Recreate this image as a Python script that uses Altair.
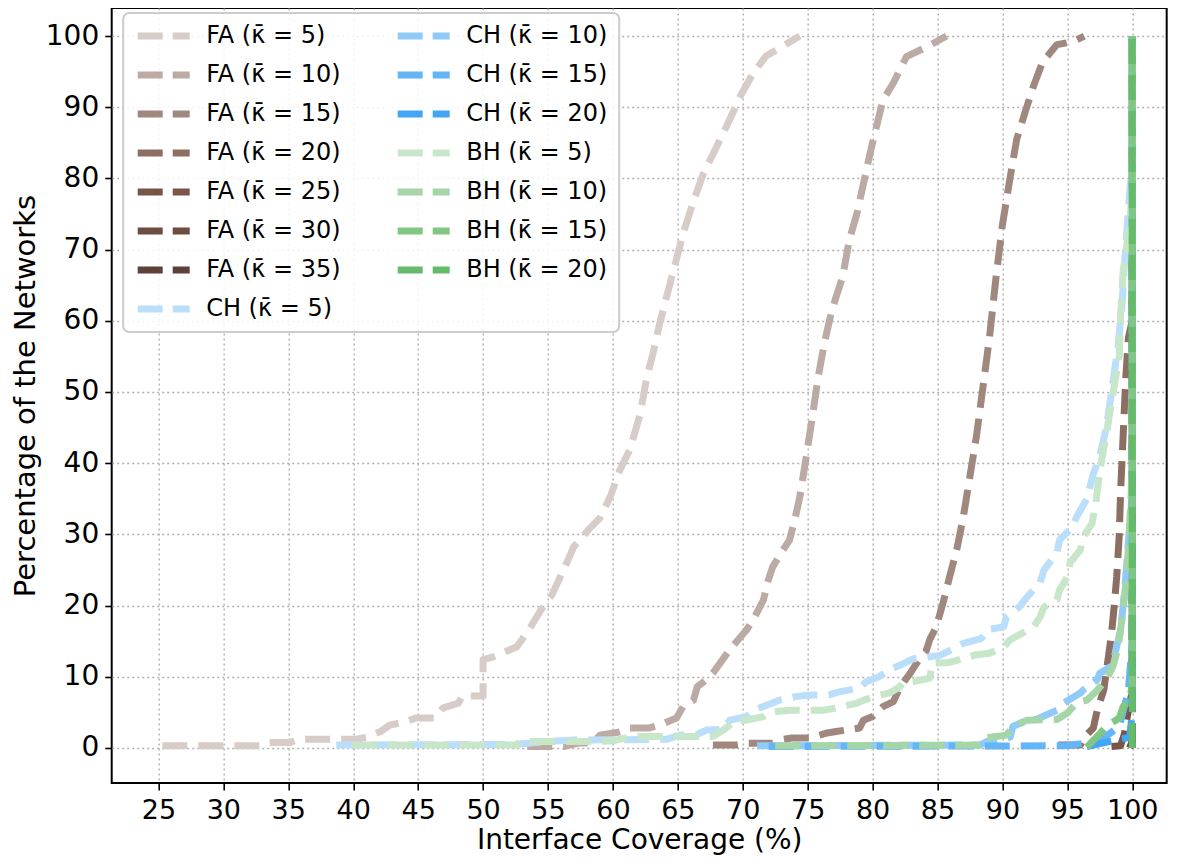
import altair as alt
import pandas as pd

# ---------------- data ----------------
FA5_x = [25.3, 32.8, 33.4, 35.1, 35.8, 37.6, 38.5, 40.1, 41.1, 42.1, 42.8, 44.1, 44.8, 46.3, 46.9, 48.1, 48.4, 50.0, 50.0,
         50.8, 52.6, 53.5, 54.5, 55.3, 56.2, 57.0, 58.2, 59.0, 59.8, 60.5, 61.3, 62.1, 62.6, 63.1, 63.6, 64.1, 64.9, 65.4,
         66.2, 67.0, 68.0, 68.8, 69.8, 70.8, 71.8, 73.1, 74.4]
FA5_y = [0.3, 0.3, 0.75, 0.75, 1.2, 1.2, 1.2, 1.2, 1.5, 2.3, 3.2, 3.7, 4.2, 4.2, 5.6, 6.3, 7.3, 7.3, 12.4,
         12.8, 14.2, 16.5, 19.5, 21.5, 25.0, 28.3, 30.8, 32.3, 35.3, 38.9, 41.9, 46.9, 52.0, 55.5, 59.6, 63.1, 68.7, 72.2,
         76.8, 80.8, 84.5, 87.5, 91.5, 94.8, 97.2, 98.6, 100.0]

FA10_x = [53.4, 56.2, 57.4, 58.5, 59.0, 60.4, 61.3, 62.8, 63.6, 64.9, 65.4, 66.2, 66.5, 67.2, 67.7, 68.8, 69.0, 70.3,
          70.8, 71.6, 71.9, 72.3, 73.1, 73.6, 74.0, 74.4, 74.9, 75.4, 75.8, 76.3, 76.8, 77.2, 77.7, 78.2, 78.8, 79.3,
          79.8, 80.3, 80.8, 81.6, 82.6, 84.2, 85.7]
FA10_y = [0.2, 0.2, 0.7, 0.7, 1.8, 2.2, 2.8, 2.8, 3.2, 4.2, 5.8, 6.7, 8.6, 9.6, 10.5, 13.3, 13.8, 16.6,
          18.0, 20.8, 23.2, 25.4, 27.8, 29.2, 32.0, 35.3, 41.0, 47.0, 52.0, 57.0, 61.0, 63.4, 66.2, 71.3, 75.1, 79.3,
          83.5, 87.3, 91.0, 93.4, 97.1, 98.5, 100.0]

FA15_x = [67.7, 69.5, 70.3, 72.3, 72.8, 73.8, 75.2, 76.5, 77.2, 79.0, 79.3, 80.0, 80.8, 81.6, 82.1, 82.9, 83.6, 84.1,
          84.4, 84.9, 85.4, 85.9, 86.5, 87.0, 87.5, 88.0, 88.5, 89.0, 89.5, 90.0, 90.6, 91.1, 91.8, 92.4, 93.1, 94.2,
          95.4, 96.3]
FA15_y = [0.4, 0.4, 0.65, 0.65, 1.1, 1.4, 1.4, 2.1, 2.3, 2.8, 3.9, 4.4, 5.8, 6.5, 8.5, 10.5, 12.5, 13.5,
          15.2, 17.0, 20.2, 23.8, 28.0, 32.6, 38.2, 43.8, 50.7, 57.6, 66.0, 73.5, 80.2, 85.5, 89.6, 93.0, 96.4, 98.8,
          99.2, 100.0]

FA20_x = [94.3, 96.0, 96.3, 97.0, 97.3, 97.8, 98.1, 98.4, 98.6, 98.8, 99.0, 99.1, 99.3, 99.5, 99.7, 100.0, 100.0]
FA20_y = [0.4, 0.4, 1.5, 2.8, 5.3, 8.1, 12.0, 16.0, 19.8, 24.0, 30.0, 36.0, 44.0, 52.0, 57.6, 60.0, 100.0]

FA25_x = [98.4, 99.1, 99.4, 99.7, 100.0, 100.0]
FA25_y = [0.2, 0.3, 2.0, 5.3, 8.0, 100.0]

FA30_x = [99.8, 100.0, 100.0]
FA30_y = [0.0, 1.0, 100.0]

FA35_x = [100.0, 100.0]
FA35_y = [0.0, 100.0]

CH5_x = [38.7, 52.6, 55.0, 57.0, 64.1, 65.2, 66.5, 67.2, 68.5, 69.0, 70.3, 70.8, 72.3, 72.8, 74.1, 74.9, 76.7, 77.5,
         79.0, 79.5, 80.5, 81.3, 82.1, 83.1, 84.4, 85.2, 86.5, 87.0, 88.4, 88.8, 90.1, 90.3, 91.3, 91.9, 92.9, 93.2,
         94.2, 94.4, 95.4, 95.7, 96.5, 97.0, 97.5, 98.0, 98.4, 98.9, 99.2, 99.4, 99.6, 99.8, 100.0, 100.0]
CH5_y = [0.4, 0.5, 0.9, 1.1, 1.2, 1.8, 1.9, 2.5, 2.6, 3.9, 4.4, 5.3, 6.3, 6.7, 7.2, 7.4, 7.5, 7.9,
         8.4, 9.3, 10.0, 11.0, 11.6, 12.5, 12.8, 13.0, 14.2, 14.7, 15.4, 16.6, 17.0, 18.4, 19.8, 21.2, 23.2, 25.0,
         27.4, 29.2, 31.0, 32.4, 35.0, 38.5, 41.0, 45.0, 50.0, 56.4, 62.0, 68.0, 73.0, 78.0, 82.0, 100.0]

CH10_x = [71.1, 88.3, 88.8, 89.5, 90.6, 90.8, 91.9, 92.6, 94.2, 94.7, 96.0, 96.2, 97.3, 97.5, 98.5, 98.7, 99.1, 99.3,
          99.5, 99.7, 99.9, 100.0, 100.0]
CH10_y = [0.3, 0.4, 0.9, 1.0, 1.5, 3.0, 3.9, 4.0, 5.3, 6.3, 7.7, 8.1, 9.6, 10.5, 11.6, 13.5, 16.6, 20.0,
          24.0, 28.8, 33.0, 38.0, 100.0]

CH15_x = [72.0, 95.0, 97.5, 99.0, 99.7, 100.0, 100.0]
CH15_y = [0.2, 0.3, 1.0, 3.0, 8.0, 15.0, 100.0]

CH20_x = [96.5, 99.8, 100.0, 100.0]
CH20_y = [0.2, 1.5, 5.0, 100.0]

BH5_x = [39.9, 52.6, 52.8, 59.0, 60.0, 61.0, 62.0, 67.7, 68.5, 69.5, 70.3, 71.6, 72.1, 73.6, 76.2, 77.2, 78.8, 79.3,
         80.5, 81.3, 82.1, 82.3, 83.1, 84.4, 84.6, 85.9, 86.7, 88.0, 89.0, 90.1, 90.6, 91.6, 92.4, 92.9, 93.2, 94.2,
         94.4, 95.0, 95.2, 96.0, 96.2, 96.9, 97.2, 97.5, 98.0, 98.5, 99.0, 99.1, 99.3, 99.6, 99.8, 100.0, 100.0]
BH5_y = [0.4, 0.4, 0.9, 0.9, 1.0, 1.4, 1.6, 1.6, 2.5, 3.9, 3.9, 4.4, 5.0, 5.3, 5.3, 5.6, 6.3, 6.7,
         7.4, 7.7, 8.6, 9.1, 9.3, 9.8, 11.9, 12.0, 12.4, 13.1, 13.3, 14.2, 15.2, 16.2, 17.0, 18.4, 19.8, 20.8,
         22.2, 24.0, 26.0, 27.8, 29.6, 31.5, 34.5, 39.0, 44.0, 49.7, 55.0, 61.0, 67.0, 71.0, 74.0, 78.0, 100.0]

BH10_x = [72.5, 88.4, 88.8, 90.3, 90.8, 91.9, 94.2, 95.0, 95.7, 96.5, 97.3, 98.0, 98.5, 98.9, 99.2, 99.5, 99.7, 99.9,
          100.0, 100.0]
BH10_y = [0.3, 0.4, 1.4, 1.8, 3.0, 3.9, 4.0, 4.9, 6.3, 6.7, 8.1, 9.6, 11.4, 14.0, 18.0, 23.0, 28.0, 35.0,
          40.0, 100.0]

BH15_x = [96.5, 97.5, 98.0, 99.0, 99.3, 99.8, 100.0, 100.0]
BH15_y = [0.1, 2.0, 3.0, 4.2, 5.8, 6.7, 9.0, 100.0]

BH20_x = [100.0, 100.0]
BH20_y = [0.0, 100.0]

K = "\u03ba\u0304"
names = [f"FA ({K} = 5)", f"FA ({K} = 10)", f"FA ({K} = 15)", f"FA ({K} = 20)", f"FA ({K} = 25)",
         f"FA ({K} = 30)", f"FA ({K} = 35)", f"CH ({K} = 5)", f"CH ({K} = 10)", f"CH ({K} = 15)",
         f"CH ({K} = 20)", f"BH ({K} = 5)", f"BH ({K} = 10)", f"BH ({K} = 15)", f"BH ({K} = 20)"]
colors = ["#d7ccc8", "#bcaaa4", "#a1887f", "#8d6e63", "#795548", "#6d4c41", "#5d4037",
          "#bbdefb", "#90caf9", "#64b5f6", "#42a5f5",
          "#c8e6c9", "#a5d6a7", "#81c784", "#66bb6a"]
series_x = [FA5_x, FA10_x, FA15_x, FA20_x, FA25_x, FA30_x, FA35_x, CH5_x, CH10_x, CH15_x, CH20_x,
            BH5_x, BH10_x, BH15_x, BH20_x]
series_y = [FA5_y, FA10_y, FA15_y, FA20_y, FA25_y, FA30_y, FA35_y, CH5_y, CH10_y, CH15_y, CH20_y,
            BH5_y, BH10_y, BH15_y, BH20_y]

x_ticks = list(range(25, 101, 5))
y_ticks = list(range(0, 101, 10))

FONT = "DejaVu Sans"

# Vega fills a multi-column legend column by column, like the reference (8 + 7 entries)
color_enc = alt.Color(
    "series:N",
    scale=alt.Scale(domain=names, range=colors),
    legend=alt.Legend(
        title=None, orient="none", legendX=11.5, legendY=5, columns=2,
        symbolType="stroke", symbolSize=2704, symbolStrokeWidth=7, symbolDash=[25, 10],
        labelFontSize=24, labelFont=FONT, labelColor="black", labelOffset=13, labelLimit=400,
        clipHeight=24, rowPadding=15, columnPadding=53, symbolOpacity=1,
    ),
)

x_enc = alt.X("v:Q", scale=alt.Scale(domain=[21.4, 102.65], nice=False, zero=False),
              axis=alt.Axis(values=x_ticks, title="Interface Coverage (%)", format="d"))
y_enc = alt.Y("p:Q", scale=alt.Scale(domain=[-4.93, 103.94], nice=False, zero=False),
              axis=alt.Axis(values=y_ticks, title="Percentage of the Networks", format="d"))

layers = []
for name, xs, ys in zip(names, series_x, series_y):
    df = pd.DataFrame({"v": xs, "p": ys, "idx": list(range(len(xs))), "series": name})
    layers.append(
        alt.Chart(df).mark_line(strokeWidth=7, strokeDash=[25, 11], strokeCap="butt", strokeJoin="round",
                                clip=True)
        .encode(x=x_enc, y=y_enc, color=color_enc, order=alt.Order("idx:Q"))
    )

chart = (
    alt.layer(*layers)
    .properties(width=1055, height=775,
                autosize=alt.AutoSizeParams(type="none"),
                padding={"left": 103.7, "top": 0, "right": 7, "bottom": 76})
    .configure_view(stroke="black", strokeWidth=2)
    .configure_axis(
        grid=True, gridColor="#b0b0b0", gridDash=[2, 3], gridWidth=1.4,
        domain=False, ticks=True, tickColor="black", tickWidth=1.6, tickSize=7,
        labelFont=FONT, labelFontSize=28, labelColor="black", labelPadding=6,
        titleFont=FONT, titleFontSize=29, titleFontWeight="normal", titleColor="black",
    )
    .configure_axisX(labelFontSize=27, labelPadding=8, titlePadding=3, titleFontSize=28)
    .configure_axisY(titlePadding=5)
    .configure_legend(fillColor="rgba(255,255,255,0.85)", strokeColor="#cccccc", strokeWidth=2,
                      cornerRadius=6, padding=11)
)

chart.save("out.html", embed_options={"renderer": "svg", "actions": False})
